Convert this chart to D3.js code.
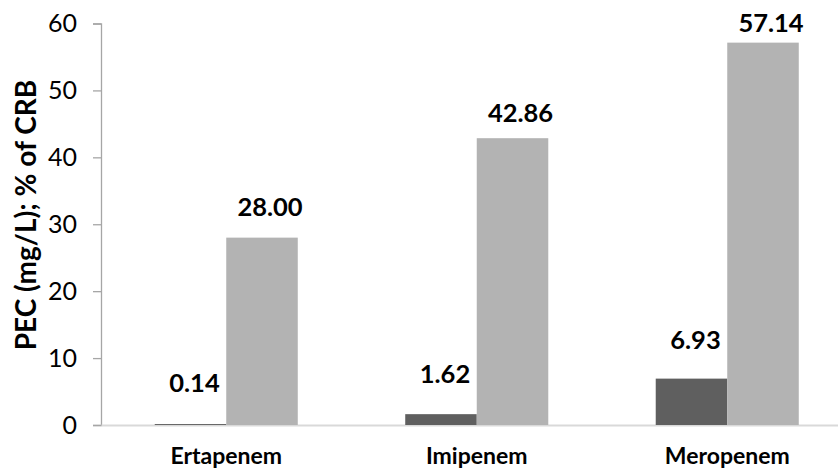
<!DOCTYPE html>
<html>
<head>
<meta charset="utf-8">
<script src="https://cdn.jsdelivr.net/npm/d3@7"></script>
<style>
  html, body { margin: 0; padding: 0; background: #fff; }
  svg { display: block; }
  text { font-family: Lato, "Open Sans", sans-serif; }
</style>
</head>
<body>
<svg id="chart" width="838" height="470"></svg>
<script>
// Antibiotics compared
const categories = ["Ertapenem", "Imipenem", "Meropenem"];
// PEC (mg/L)
const pecValues = [0.14, 1.62, 6.93];
// % of CRB
const crbValues = [28.00, 42.86, 57.14];
const series = ["pec", "crb"];
const yTicks = [0, 10, 20, 30, 40, 50, 60];
const yTitle = "PEC (mg/L); % of CRB";

const rows = categories.map((c, i) => ({ category: c, pec: pecValues[i], crb: crbValues[i] }));

const svg = d3.select("#chart");
const plotLeft = 101, plotRight = 852.5, plotTop = 23.5, plotBottom = 425;
const font = "Lato, 'Open Sans', sans-serif";

const x = d3.scaleBand().domain(categories).range([plotLeft, plotRight]).padding(0);
const groupWidth = x.bandwidth() * 0.571;
const x1 = d3.scaleBand().domain(series).range([0, groupWidth]).padding(0);
const y = d3.scaleLinear().domain([0, 60]).range([plotBottom, plotTop]);
// value labels sit on their own, slightly compressed vertical scale
const yLabel = d3.scaleLinear().domain([0, 60]).range([393, 14]);

const colors = { pec: "#5f5f5f", crb: "#b3b3b3" };
const labelDx = { pec: 4, crb: 8 };

// y axis
const yAxis = d3.axisLeft(y).tickValues(yTicks).tickSize(8).tickPadding(16).tickFormat(d3.format("d"));
const yg = svg.append("g").attr("transform", `translate(${plotLeft},0)`).call(yAxis);
yg.select(".domain").attr("stroke", "#a6a6a6").attr("stroke-width", 1.3);
yg.selectAll(".tick line").attr("stroke", "#a6a6a6").attr("stroke-width", 1.3);
yg.selectAll(".tick text")
  .attr("fill", "#000")
  .style("font-family", font)
  .style("font-size", "25px");

// x axis
const xAxis = d3.axisBottom(x).tickSize(0).tickPadding(23);
const xg = svg.append("g").attr("transform", `translate(0,${plotBottom})`).call(xAxis);
xg.select(".domain").attr("stroke", "#d9d9d9").attr("stroke-width", 2);
xg.selectAll(".tick text")
  .attr("fill", "#000")
  .style("font-family", font)
  .style("font-size", "23px")
  .style("font-weight", "bold");

// bars
const groups = svg.selectAll("g.group")
  .data(rows)
  .join("g")
  .attr("class", "group")
  .attr("transform", d => `translate(${x(d.category) + (x.bandwidth() - groupWidth) / 2},0)`);

groups.selectAll("rect")
  .data(d => series.map(s => ({ key: s, value: d[s] })))
  .join("rect")
  .attr("x", d => x1(d.key))
  .attr("width", x1.bandwidth())
  .attr("y", d => y(d.value))
  .attr("height", d => y(0) - y(d.value))
  .attr("fill", d => colors[d.key]);

// value labels
groups.selectAll("text.val")
  .data(d => series.map(s => ({ key: s, value: d[s] })))
  .join("text")
  .attr("class", "val")
  .attr("x", d => x1(d.key) + x1.bandwidth() / 2 + labelDx[d.key])
  .attr("y", d => yLabel(d.value))
  .attr("text-anchor", "middle")
  .style("font-size", "25.5px")
  .style("font-weight", "bold")
  .attr("fill", "#000")
  .text(d => d.value.toFixed(2));

// y axis title, sized to span about 296px
const title = svg.append("text")
  .attr("transform", `translate(36,${(67 + 363) / 2}) rotate(-90)`)
  .attr("text-anchor", "middle")
  .style("font-size", "24px")
  .style("font-weight", "bold")
  .attr("fill", "#000")
  .text(yTitle);
const len = title.node().getComputedTextLength();
if (len > 0) title.style("font-size", Math.min(28, 24 * 296 / len) + "px");
</script>
</body>
</html>
